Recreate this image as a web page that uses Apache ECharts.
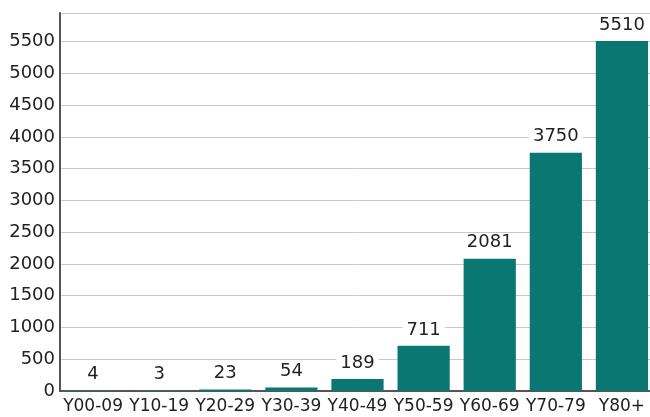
<!DOCTYPE html>
<html>
<head>
<meta charset="utf-8">
<script src="https://cdn.jsdelivr.net/npm/echarts@6/dist/echarts.min.js"></script>
<style>
  html, body { margin: 0; padding: 0; background: #fff; overflow: hidden; }
  #chart { width: 655px; height: 417px; }
</style>
</head>
<body>
<div id="chart"></div>
<script>
// age groups and counts
const categories = ['Y00-09', 'Y10-19', 'Y20-29', 'Y30-39', 'Y40-49', 'Y50-59', 'Y60-69', 'Y70-79', 'Y80+'];
const values = [4, 3, 23, 54, 189, 711, 2081, 3750, 5510];

const barColor = '#0a7773';
const textColor = '#222';
const fontFamily = '"DejaVu Sans", sans-serif';

const chart = echarts.init(document.getElementById('chart'));

chart.setOption({
  animation: false,
  grid: { left: 60, right: 0, top: 13, bottom: 26, containLabel: false },
  xAxis: {
    type: 'category',
    data: categories,
    axisLine: { lineStyle: { color: '#555', width: 2 } },
    axisTick: { show: false },
    axisLabel: { color: textColor, fontSize: 17, fontFamily, margin: 7, interval: 0 },
  },
  yAxis: {
    type: 'value',
    min: 0,
    max: 5950,
    interval: 500,
    axisLine: { show: true, lineStyle: { color: '#555', width: 2 } },
    axisTick: { show: false },
    axisLabel: {
      color: textColor,
      fontSize: 18,
      fontFamily,
      margin: 5,
      showMaxLabel: false,
      formatter: (v) => String(v),
    },
    splitLine: { lineStyle: { color: '#c8c8c8', width: 1 } },
  },
  series: [{
    type: 'bar',
    data: values,
    barWidth: '79%',
    itemStyle: { color: barColor },
    label: {
      show: true,
      position: 'top',
      distance: 7,
      color: textColor,
      fontSize: 18,
      fontFamily,
      backgroundColor: '#fff',
      padding: [0, 4],
    },
  }],
});
</script>
</body>
</html>
